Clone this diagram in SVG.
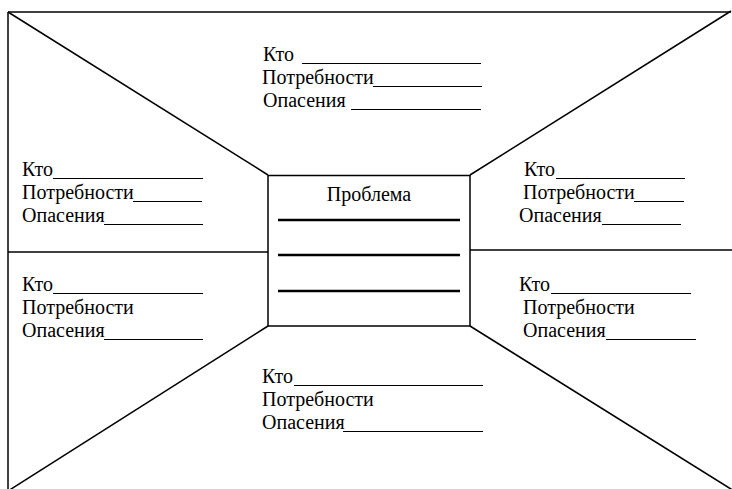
<svg xmlns="http://www.w3.org/2000/svg" width="732" height="489" viewBox="0 0 732 489">
  <style>
    .frame { stroke: #000; stroke-width: 1.5; fill: none; }
    .box { stroke: #000; stroke-width: 1.5; fill: #fff; }
    .rule { stroke: #000; stroke-width: 1; }
    .bold-rule { stroke: #000; stroke-width: 2.6; }
  </style>
  <rect width="732" height="489" fill="#fff"/>

  <!-- outer frame and perspective lines -->
  <g id="connectors">
    <line class="frame" x1="8" y1="12" x2="731" y2="12"/>
    <line class="frame" x1="8" y1="12" x2="8" y2="489"/>
    <line class="frame" x1="8" y1="12" x2="268" y2="175"/>
    <line class="frame" x1="731" y1="11" x2="470" y2="175"/>
    <line class="frame" x1="268" y1="326" x2="8" y2="491"/>
    <line class="frame" x1="470" y1="326" x2="734" y2="491"/>
    <line class="frame" x1="8" y1="252" x2="268" y2="252"/>
    <line class="frame" x1="470" y1="250" x2="732" y2="250"/>
  </g>

  <g font-family="'Liberation Serif', 'Times New Roman', serif" font-size="20" fill="#000">
  <!-- central problem box -->
  <g id="problem">
    <rect class="box" x="268" y="175.5" width="202" height="150.5"/>
    <text x="369" y="201" text-anchor="middle">Проблема</text>
    <line class="bold-rule" x1="278" y1="220" x2="460" y2="220"/>
    <line class="bold-rule" x1="278" y1="255" x2="460" y2="255"/>
    <line class="bold-rule" x1="278" y1="291" x2="460" y2="291"/>
  </g>

  <!-- top party -->
  <g id="top">
    <text x="263" y="61">Кто</text>
    <line class="rule" x1="302" y1="63.5" x2="481" y2="63.5"/>
    <text x="262" y="84">Потребности</text>
    <line class="rule" x1="373" y1="86.5" x2="482" y2="86.5"/>
    <text x="263" y="107">Опасения</text>
    <line class="rule" x1="351" y1="109.5" x2="481" y2="109.5"/>
  </g>

  <!-- upper-left party -->
  <g id="upper-left">
    <text x="22" y="176">Кто</text>
    <line class="rule" x1="53" y1="178.5" x2="203" y2="178.5"/>
    <text x="22" y="199">Потребности</text>
    <line class="rule" x1="133" y1="201.5" x2="202" y2="201.5"/>
    <text x="22" y="222">Опасения</text>
    <line class="rule" x1="104" y1="224.5" x2="203" y2="224.5"/>
  </g>

  <!-- upper-right party -->
  <g id="upper-right">
    <text x="524" y="176">Кто</text>
    <line class="rule" x1="556" y1="178.5" x2="685" y2="178.5"/>
    <text x="523" y="199">Потребности</text>
    <line class="rule" x1="634" y1="201.5" x2="684" y2="201.5"/>
    <text x="519" y="222">Опасения</text>
    <line class="rule" x1="602" y1="224.5" x2="681" y2="224.5"/>
  </g>

  <!-- lower-left party -->
  <g id="lower-left">
    <text x="22" y="291">Кто</text>
    <line class="rule" x1="53" y1="293.5" x2="203" y2="293.5"/>
    <text x="22" y="314">Потребности</text>
    <text x="22" y="337">Опасения</text>
    <line class="rule" x1="104" y1="339.5" x2="203" y2="339.5"/>
  </g>

  <!-- lower-right party -->
  <g id="lower-right">
    <text x="519" y="291">Кто</text>
    <line class="rule" x1="551" y1="293.5" x2="691" y2="293.5"/>
    <text x="523" y="314">Потребности</text>
    <text x="523" y="337">Опасения</text>
    <line class="rule" x1="606" y1="339.5" x2="696" y2="339.5"/>
  </g>

  <!-- bottom party -->
  <g id="bottom">
    <text x="262" y="383">Кто</text>
    <line class="rule" x1="294" y1="385.5" x2="483" y2="385.5"/>
    <text x="262" y="406">Потребности</text>
    <text x="262" y="429">Опасения</text>
    <line class="rule" x1="343" y1="431.5" x2="483" y2="431.5"/>
  </g>
  </g>
</svg>
